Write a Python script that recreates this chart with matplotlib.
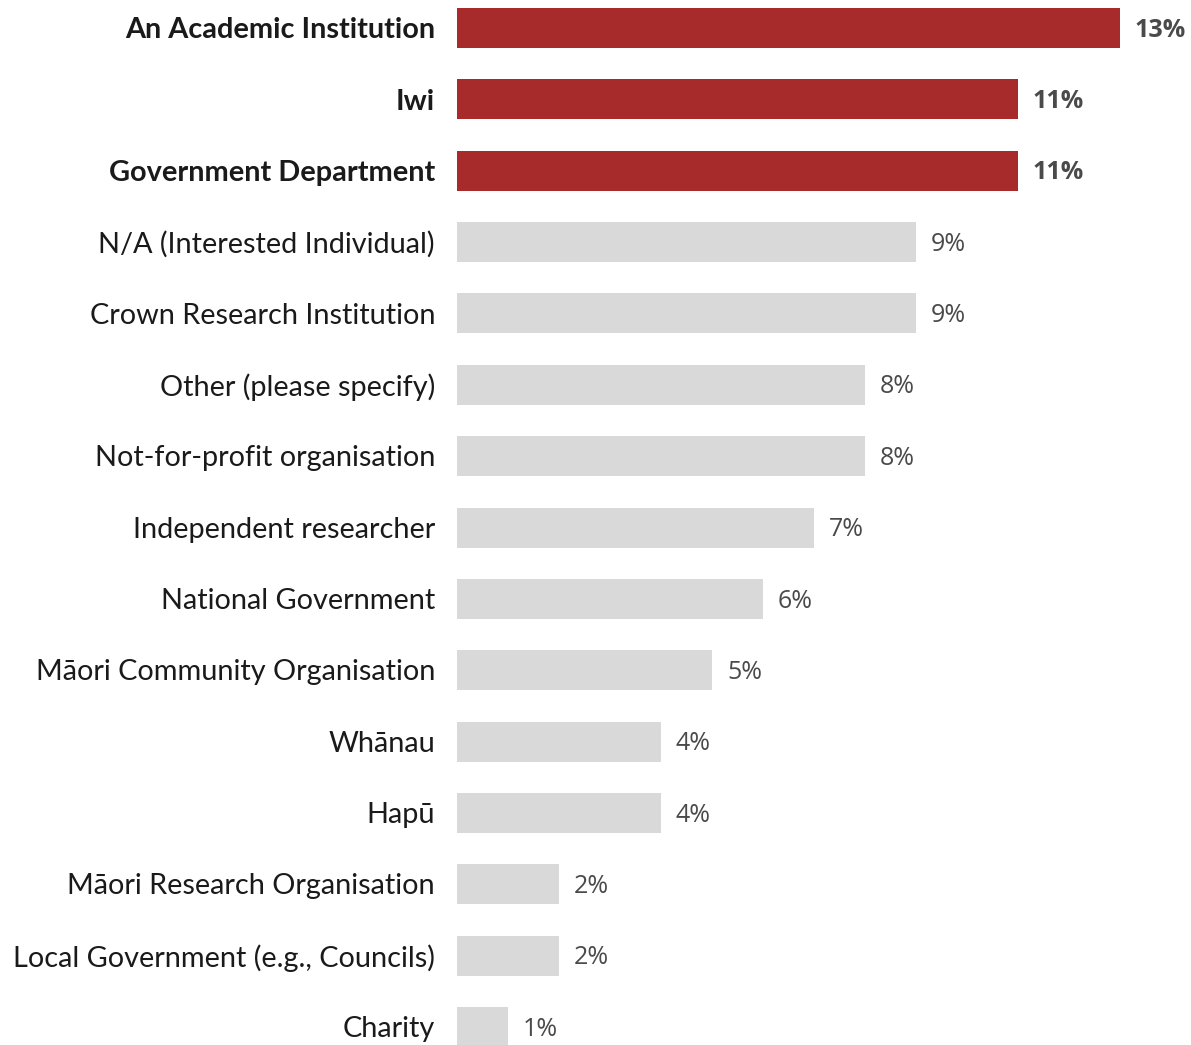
import matplotlib
matplotlib.use("Agg")
import matplotlib.pyplot as plt

# survey categories, top to bottom
categories = [
    "An Academic Institution", "Iwi", "Government Department",
    "N/A (Interested Individual)", "Crown Research Institution",
    "Other (please specify)", "Not-for-profit organisation",
    "Independent researcher", "National Government",
    "Māori Community Organisation", "Whānau", "Hapū",
    "Māori Research Organisation", "Local Government (e.g., Councils)",
    "Charity",
]
percent = [13, 11, 11, 9, 9, 8, 8, 7, 6, 5, 4, 4, 2, 2, 1]
highlight = [True, True, True] + [False] * 12

RED = "#A72B2B"
GREY = "#D9D9D9"

W, H = 1191, 1045
fig = plt.figure(figsize=(W / 100, H / 100), dpi=100)
ax = fig.add_axes([457 / W, 0, 1 - 457 / W, 1])

px_per_pct = 51.0
row = 71.36
ax.set_xlim(0, (W - 457) / px_per_pct)
ax.set_ylim((H - 28) / row, -28 / row)

ys = list(range(len(categories)))
colors = [RED if h else GREY for h in highlight]
ax.barh(ys, percent, height=40 / row, color=colors)

for y, cat, v, h in zip(ys, categories, percent, highlight):
    ax.text(-22 / px_per_pct, y + 0.03, cat, ha="right", va="center",
            fontsize=20.8, family="Lato", color="#1a1a1a",
            fontweight="bold" if h else "normal", clip_on=False)
    ax.text(v + 15 / px_per_pct, y + 0.03, f"{v}%", ha="left", va="center",
            fontsize=18, family="Open Sans", color="#4a4a4a",
            fontweight="bold" if h else "normal")

ax.axis("off")
fig.savefig("out.png", dpi=100)
